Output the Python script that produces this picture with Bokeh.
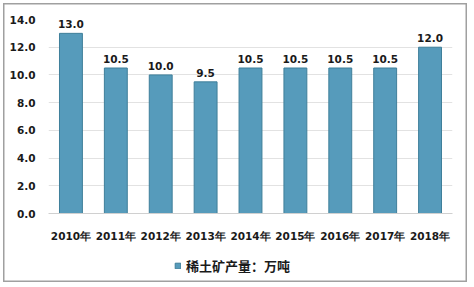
from bokeh.plotting import figure
from bokeh.layouts import column
from bokeh.models import ColumnDataSource, LabelSet, Legend, LegendItem, NumeralTickFormatter
from bokeh.core.properties import value
from bokeh.embed import file_html
from bokeh.resources import INLINE

years = ["2010年", "2011年", "2012年", "2013年", "2014年", "2015年", "2016年", "2017年", "2018年"]
output = [13.0, 10.5, 10.0, 9.5, 10.5, 10.5, 10.5, 10.5, 12.0]
series_name = "稀土矿产量：万吨"
y_ticks = [0, 2, 4, 6, 8, 10, 12, 14]

BAR_FILL = "#569bbb"
BAR_LINE = "#3f7f9a"

src = ColumnDataSource(dict(x=years, y=output, lbl=["%.1f" % v for v in output]))

p = figure(x_range=years, y_range=(0, 14), width=474, height=244,
           output_backend="svg", toolbar_location=None,
           min_border_left=48, min_border_right=22, min_border_top=19, min_border_bottom=29)
p.background_fill_alpha = 0
p.border_fill_alpha = 0
p.outline_line_color = None

r = p.vbar(x="x", top="y", width=0.51, source=src,
           fill_color=BAR_FILL, line_color=BAR_LINE, line_width=1)

labels = LabelSet(x="x", y="y", text="lbl", source=src, text_align="center",
                  text_baseline="bottom", y_offset=5, text_font=value("DejaVu Sans"),
                  text_font_style="bold", text_font_size="10.5px", text_color="#1a1a1a")
p.add_layout(labels)

p.yaxis.ticker = y_ticks
p.yaxis.formatter = NumeralTickFormatter(format="0.0")
p.yaxis.axis_line_color = None
p.yaxis.major_tick_line_color = None
p.yaxis.minor_tick_line_color = None
p.yaxis.major_label_text_font = "DejaVu Sans"
p.yaxis.major_label_text_font_style = "bold"
p.yaxis.major_label_text_font_size = "10.5px"
p.yaxis.major_label_text_color = "#1a1a1a"
p.yaxis.major_label_standoff = 7

p.xaxis.axis_line_color = "#d0d0d0"
p.xaxis.major_tick_line_color = None
p.xaxis.minor_tick_line_color = None
p.xaxis.major_label_text_font = "DejaVu Sans"
p.xaxis.major_label_text_font_style = "bold"
p.xaxis.major_label_text_font_size = "10.5px"
p.xaxis.major_label_text_color = "#1a1a1a"
p.xaxis.major_label_standoff = 10

p.xgrid.grid_line_color = None
p.ygrid.grid_line_color = "#e2e2e2"

# legend strip below the chart (bars of the same data kept out of its view)
leg = figure(width=474, height=43, x_range=years, y_range=(100, 101),
             output_backend="svg", toolbar_location=None,
             min_border=0, min_border_left=0, min_border_right=0,
             min_border_top=0, min_border_bottom=0)
leg.axis.visible = False
leg.grid.visible = False
leg.outline_line_color = None
leg.background_fill_alpha = 0
leg.border_fill_alpha = 0
proxy = leg.vbar(x="x", top="y", width=0.51, source=src,
                 fill_color=BAR_FILL, line_color=BAR_LINE)

legend = Legend(items=[LegendItem(label=series_name, renderers=[proxy])],
                location=(126, 12), orientation="horizontal",
                label_text_font="Noto Sans CJK SC", label_text_font_size="13px",
                label_text_font_style="bold", label_text_color="#1a1a1a",
                glyph_width=7, glyph_height=7, border_line_color=None,
                background_fill_alpha=0, padding=2, margin=0, label_standoff=5)
leg.add_layout(legend)

frame_css = ("inset 0 0 0 3px #ffffff, inset -7px -5px 0 0 #ffffff, "
             "inset 0 0 0 4.5px #a0a0a0, inset -8.5px -6.5px 0 0 #a0a0a0")
layout = column(p, leg, spacing=0,
                styles={"background-color": "#ffffff", "box-shadow": frame_css})

open("out.html", "w").write(file_html(layout, INLINE))
